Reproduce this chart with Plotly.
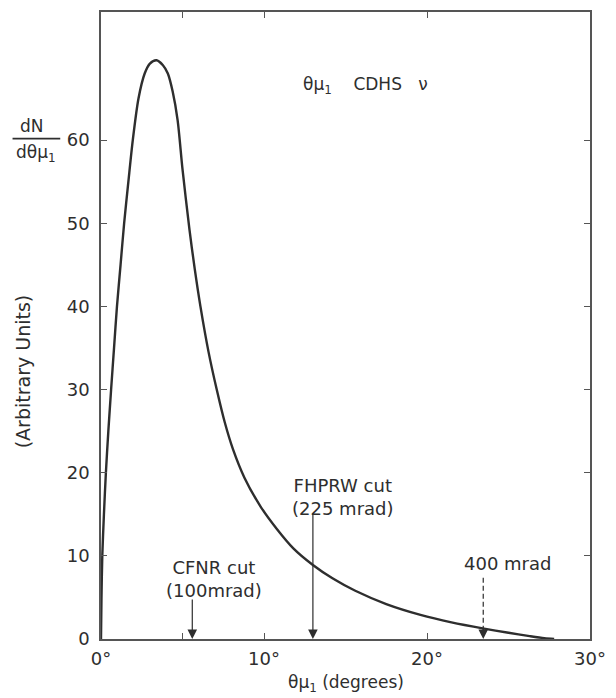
import plotly.graph_objects as go

# Muon angle distribution (arbitrary units), theta in degrees
theta_deg = [0, 0.03, 0.08, 0.18, 0.3, 0.45, 0.62, 0.8, 0.98, 1.2, 1.42, 1.68,
             1.95, 2.3, 2.68, 3.0, 3.4, 3.8, 4.1, 4.4, 4.7, 5.0, 5.43, 5.75,
             6.1, 6.6, 7.1, 7.6, 8.1, 8.8, 9.8, 10.8, 11.8, 13.0, 14.2, 15.6,
             17.5, 19.6, 21.5, 23.5, 25.0, 26.3, 27.2, 27.8]
dn_dtheta = [0, 5, 10, 15, 20, 25, 30, 35, 40, 45, 50, 55,
             60, 65, 68, 69.2, 69.6, 69.0, 68.0, 65.8, 62.4, 56.5, 49.2, 44.5,
             40, 34.5, 30, 26.0, 22.8, 19.4, 15.9, 13.2, 10.9, 8.9, 7.3, 5.8,
             4.2, 2.9, 2.0, 1.25, 0.75, 0.35, 0.1, 0]

# Angular cuts of the experiments
cut_labels = ["CFNR cut<br>(100mrad)", "FHPRW cut<br>(225 mrad)", "400 mrad"]
cut_deg = [5.6, 13.0, 23.45]

x_ticks = [0, 5, 10, 20, 30]
x_ticktext = ["0°", "", "10°", "20°", "30°"]
y_ticks = [0, 10, 20, 30, 40, 50, 60]

INK = "#2e2e2e"
FONT = "DejaVu Sans"

W, H = 616, 698
L, R, T, B = 101, 593, 10, 639
Y_MAX = 75.4


def px(xp, yp):
    """Pixel position on the page -> paper coordinates."""
    return (xp - L) / (R - L), (B - yp) / (B - T)


fig = go.Figure()
fig.add_trace(go.Scatter(
    x=theta_deg, y=dn_dtheta, mode="lines",
    line=dict(color=INK, width=2.4, shape="spline", smoothing=0.8),
    hoverinfo="skip", showlegend=False,
))

annotations = []
shapes = []

# Arrow lengths (px) and text anchors for each cut
arrow_len = [41, 127, 12]
text_pos = [(215, 579), (344, 497), (510, 563)]
for i, (lab, xd) in enumerate(zip(cut_labels, cut_deg)):
    annotations.append(dict(
        x=xd, y=0, xref="x", yref="y", text="", showarrow=True,
        ax=0, ay=-arrow_len[i], axref="pixel", ayref="pixel",
        arrowhead=2, arrowsize=1.6, arrowwidth=1.2, arrowcolor=INK,
        standoff=0,
    ))
    tx, ty = px(*text_pos[i])
    annotations.append(dict(
        x=tx, y=ty, xref="paper", yref="paper", text=lab, showarrow=False,
        font=dict(family=FONT, size=18, color=INK), align="center",
        xanchor="center", yanchor="middle",
    ))

# dashed guide for the 400 mrad marker
shapes.append(dict(
    type="line", xref="x", yref="y", x0=cut_deg[2], x1=cut_deg[2],
    y0=1.0, y1=(B - 577) / ((B - T) / Y_MAX),
    line=dict(color=INK, width=1.2, dash="5px,3px"),
))

# y-axis label as a fraction dN / dθμ1
x0p, y0p = px(12, 137)
x1p, _ = px(60, 137)
shapes.append(dict(type="line", xref="paper", yref="paper",
                   x0=x0p, x1=x1p, y0=y0p, y1=y0p,
                   line=dict(color=INK, width=1.8)))
for txt, (xp, yp) in [("dN", (32, 124)), ("dθμ<sub>1</sub>", (36, 152))]:
    ax_, ay_ = px(xp, yp)
    annotations.append(dict(
        x=ax_, y=ay_, xref="paper", yref="paper", text=txt, showarrow=False,
        font=dict(family=FONT, size=17, color=INK),
        xanchor="center", yanchor="middle",
    ))

ax_, ay_ = px(22, 370)
annotations.append(dict(
    x=ax_, y=ay_, xref="paper", yref="paper", text="(Arbitrary Units)",
    showarrow=False, textangle=-90,
    font=dict(family=FONT, size=19, color=INK),
    xanchor="center", yanchor="middle",
))

ax_, ay_ = px(367, 84)
annotations.append(dict(
    x=ax_, y=ay_, xref="paper", yref="paper",
    text="θμ<sub>1</sub>    CDHS   ν", showarrow=False,
    font=dict(family=FONT, size=17, color=INK),
    xanchor="center", yanchor="middle",
))

ax_, ay_ = px(348, 684)
annotations.append(dict(
    x=ax_, y=ay_, xref="paper", yref="paper",
    text="θμ<sub>1</sub> (degrees)", showarrow=False,
    font=dict(family=FONT, size=17, color=INK),
    xanchor="center", yanchor="middle",
))

axis_common = dict(
    showgrid=False, zeroline=False, showline=True, linecolor="#555",
    linewidth=1.5, mirror="allticks", ticks="inside", ticklen=6,
    tickwidth=1.2, tickcolor="#555",
    tickfont=dict(family=FONT, size=18, color=INK),
)

fig.update_layout(
    width=W, height=H,
    margin=dict(l=L, r=W - R, t=T, b=H - B),
    paper_bgcolor="white", plot_bgcolor="white",
    xaxis=dict(range=[0, 30], tickvals=x_ticks, ticktext=x_ticktext,
               ticklabelstandoff=3, **axis_common),
    yaxis=dict(range=[0, Y_MAX], tickvals=y_ticks,
               ticklabelstandoff=6, **axis_common),
    annotations=annotations, shapes=shapes,
)

fig.write_html("out.html")
